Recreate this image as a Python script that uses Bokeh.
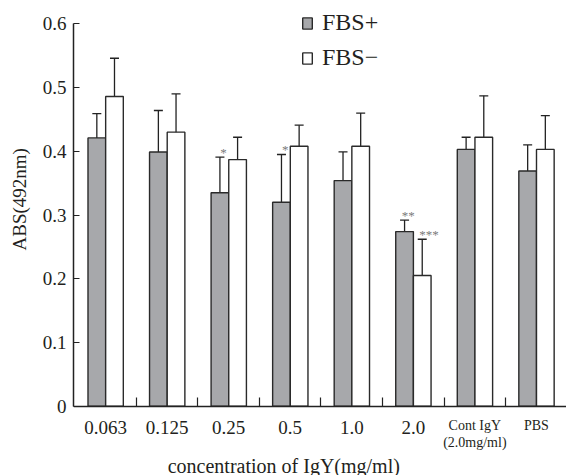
from bokeh.plotting import figure
from bokeh.models import (ColumnDataSource, FixedTicker, NumeralTickFormatter, Whisker, TeeHead,
                          Legend, LegendItem, Label, Title, Range1d)
from bokeh.core.properties import value
from bokeh.embed import file_html
from bokeh.resources import INLINE

# ---- data ----
groups = ["0.063", "0.125", "0.25", "0.5", "1.0", "2.0", "Cont IgY\n(2.0mg/ml)", "PBS"]
fbs_plus = [0.421, 0.399, 0.335, 0.320, 0.354, 0.274, 0.403, 0.369]
plus_hi = [0.459, 0.464, 0.391, 0.395, 0.399, 0.292, 0.422, 0.410]
plus_lo = [0.379, 0.334, 0.274, 0.247, 0.304, 0.254, 0.384, 0.331]
fbs_minus = [0.486, 0.430, 0.387, 0.408, 0.408, 0.205, 0.422, 0.403]
minus_hi = [0.546, 0.490, 0.422, 0.441, 0.460, 0.262, 0.487, 0.456]
minus_lo = [0.425, 0.368, 0.353, 0.372, 0.353, 0.148, 0.356, 0.350]
plus_stars = ["", "", "*", "*", "", "**", "", ""]
minus_stars = ["", "", "", "", "", "***", "", ""]
y_ticks = [0, 0.1, 0.2, 0.3, 0.4, 0.5, 0.6]
small_label_groups = [6, 7]

FONT = "Liberation Serif"
TXT = "#231f20"
GRAY = "#a7a8ab"
EDGE = "#2a2a2a"

n = len(groups)
idx = list(range(n))
bar_w = 0.287
src_p = ColumnDataSource(dict(x=[i + 0.358 for i in idx], top=fbs_plus, hi=plus_hi, lo=plus_lo,
                              sx=[i + 0.358 + 0.06 for i in idx], stars=plus_stars))
src_m = ColumnDataSource(dict(x=[i + 0.645 for i in idx], top=fbs_minus, hi=minus_hi, lo=minus_lo,
                              sx=[i + 0.645 + 0.11 for i in idx], stars=minus_stars))

p = figure(width=566, height=475, output_backend="svg", toolbar_location=None,
           x_range=Range1d(-0.021, 7.989), y_range=Range1d(-0.1087, 0.6366),
           min_border_left=72, min_border_right=0, min_border_top=0, min_border_bottom=0)
p.outline_line_color = None
p.grid.visible = False

r1 = p.vbar(x="x", top="top", bottom=0, width=bar_w, source=src_p,
            fill_color=GRAY, line_color=EDGE, line_width=1.4)
r2 = p.vbar(x="x", top="top", bottom=0, width=bar_w, source=src_m,
            fill_color="white", line_color=EDGE, line_width=1.4)

for src in (src_p, src_m):
    w = Whisker(source=src, base="x", upper="hi", lower="lo", line_color="#222222", line_width=1.3,
                upper_head=TeeHead(size=9, line_color="#222222", line_width=1.3),
                lower_head=TeeHead(size=9, line_color="#222222", line_width=1.3))
    p.add_layout(w)
    p.text(x="sx", y="hi", text="stars", source=src, text_font=value(FONT), text_font_size="13px",
           text_color="#7a7a7a", text_align="center", text_baseline="alphabetic", y_offset=-5)

# x axis (drawn at y = 0)
xa = p.xaxis[0]
xa.fixed_location = 0
xa.ticker = FixedTicker(ticks=[i + 0.5 for i in idx], minor_ticks=[i for i in range(1, n)])
xa.major_label_overrides = {i + 0.5: ("" if i in small_label_groups else groups[i]) for i in idx}
xa.major_tick_in = 0
xa.major_tick_out = 0
xa.minor_tick_in = 9
xa.minor_tick_out = 0
xa.minor_tick_line_color = "#222222"
xa.minor_tick_line_width = 1.2
xa.axis_line_color = "#222222"
xa.axis_line_width = 1.5
xa.major_label_text_font = FONT
xa.major_label_text_font_size = "19px"
xa.major_label_text_color = TXT
xa.major_label_standoff = 15

# y axis
ya = p.yaxis[0]
ya.bounds = (0, 0.6)
ya.ticker = FixedTicker(ticks=y_ticks)
ya.formatter = NumeralTickFormatter(format="0.[0]")
ya.major_tick_in = 6
ya.major_tick_out = 0
ya.minor_tick_in = 0
ya.minor_tick_out = 0
ya.major_tick_line_color = "#222222"
ya.major_tick_line_width = 1.2
ya.axis_line_color = "#222222"
ya.axis_line_width = 1.5
ya.major_label_text_font = FONT
ya.major_label_text_font_size = "19px"
ya.major_label_text_color = TXT
ya.major_label_standoff = 7

for i in small_label_groups:
    p.add_layout(Label(x=i + 0.5, y=0, y_offset=-12, text=groups[i], text_align="center",
                       text_baseline="top", text_font=FONT, text_font_size="14px",
                       text_color=TXT, text_line_height=1.12))

p.add_layout(Label(x=3.396, y=10, y_units="screen", text="concentration of IgY(mg/ml)",
                   text_align="center", text_baseline="alphabetic", text_font=FONT,
                   text_font_size="20px", text_color=TXT))
p.add_layout(Title(text="ABS(492nm)", align="left", offset=225, standoff=16, vertical_align="top",
                   text_font=FONT, text_font_size="19px", text_font_style="normal",
                   text_color=TXT), "left")

legend = Legend(items=[LegendItem(label="FBS+", renderers=[r1]),
                       LegendItem(label="FBS\u2212", renderers=[r2])],
                location=(228, 404), border_line_color=None, background_fill_alpha=0,
                padding=0, margin=0, spacing=8, glyph_width=12, glyph_height=14,
                label_standoff=9, label_text_font=FONT, label_text_font_size="24px",
                label_text_color=TXT)
p.add_layout(legend)

open("out.html", "w").write(file_html(p, INLINE))
